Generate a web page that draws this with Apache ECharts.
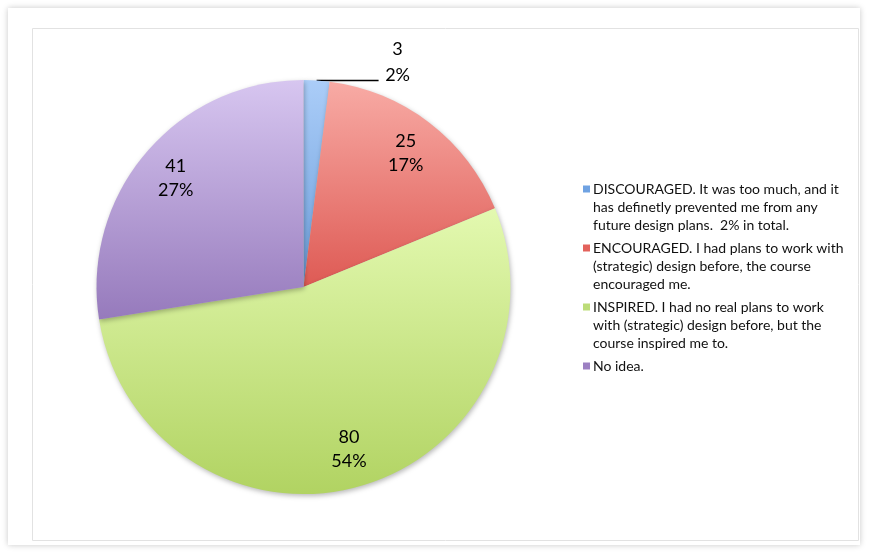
<!DOCTYPE html>
<html>
<head>
<meta charset="utf-8">
<script src="https://cdn.jsdelivr.net/npm/echarts@6/dist/echarts.min.js"></script>
<style>
html,body{margin:0;padding:0;background:#fff;}
#chart{width:870px;height:560px;}
</style>
</head>
<body>
<div id="chart"></div>
<script>
// ---- data ----
const categories = [
  "DISCOURAGED. It was too much, and it has definetly prevented me from any future design plans.  2% in total.",
  "ENCOURAGED. I had plans to work with (strategic) design before, the course encouraged me.",
  "INSPIRED. I had no real plans to work with (strategic) design before, but the course inspired me to.",
  "No idea."
];
const legendLines = [
  ["DISCOURAGED. It was too much, and it", "has definetly prevented me from any", "future design plans.  2% in total."],
  ["ENCOURAGED. I had plans to work with", "(strategic) design before, the course", "encouraged me."],
  ["INSPIRED. I had no real plans to work", "with (strategic) design before, but the", "course inspired me to."],
  ["No idea."]
];
const values = [3, 25, 80, 41];
const topColors = ["#abcdf8", "#f8aba5", "#e3f9b0", "#d7c6f0"];
const bottomColors = ["#6c9edb", "#de5a54", "#b1d362", "#967abc"];
const markerColors = ["#6fa2e2", "#e3625c", "#bcdc78", "#9c80c2"];

// ---- build ----
const FONT = "Lato, 'Liberation Sans', sans-serif";
function grad(i) {
  return {
    type: 'linear', x: 0, y: 0, x2: 0, y2: 1,
    colorStops: [{offset: 0, color: topColors[i]}, {offset: 1, color: bottomColors[i]}]
  };
}
const mainData = values.map((v, i) => ({
  name: categories[i], value: v,
  itemStyle: {color: grad(i)},
  label: {show: i === 0},
  labelLine: {show: i === 0}
}));
const overlayData = values.map((v, i) => ({
  name: categories[i], value: v,
  label: {show: i !== 0}
}));

const richLegend = {
  g: {width: 3, height: 7},
  s: {width: 10, height: 7}
};
markerColors.forEach((c, i) => {
  richLegend['m' + i] = {width: 7, height: 7, backgroundColor: c};
});

const chart = echarts.init(document.getElementById('chart'), null, {renderer: 'canvas'});
chart.setOption({
  backgroundColor: '#ffffff',
  animation: false,
  graphic: [
    {type: 'rect', z: -10, silent: true,
     shape: {x: 8, y: 8, width: 852, height: 537},
     style: {fill: '#ffffff', shadowBlur: 6, shadowColor: 'rgba(0,0,0,0.22)', shadowOffsetX: 0, shadowOffsetY: 0}},
    {type: 'rect', z: -9, silent: true,
     shape: {x: 32.5, y: 28.5, width: 826, height: 512},
     style: {fill: '#ffffff', stroke: '#e2e2e2', lineWidth: 1}}
  ],
  legend: {
    orient: 'vertical',
    left: 573,
    top: 175,
    icon: 'none',
    itemWidth: 0,
    itemHeight: 7,
    itemGap: 5,
    selectedMode: false,
    data: categories,
    textStyle: {fontFamily: FONT, fontSize: 14, lineHeight: 18, color: '#111', rich: richLegend},
    formatter: function (name) {
      const i = categories.indexOf(name);
      return legendLines[i].map((ln, k) => (k === 0 ? '{m' + i + '|}{g|}' : '{s|}') + ln).join('\n');
    }
  },
  series: [
    {
      type: 'pie',
      center: [303.5, 287],
      radius: [0, 207],
      startAngle: 90,
      clockwise: true,
      percentPrecision: 0,
      avoidLabelOverlap: false,
      itemStyle: {shadowBlur: 5, shadowColor: 'rgba(0,0,0,0.28)', shadowOffsetX: 1, shadowOffsetY: 2},
      label: {
        position: 'outside',
        fontFamily: FONT,
        fontSize: 18,
        color: '#000',
        distanceToLabelLine: 4,
        padding: [0, 0, 36, 0],
        formatter: '{c|{c}}\n{c|{d}%}',
        rich: {c: {width: 30, align: 'center', fontFamily: FONT, fontSize: 18, lineHeight: 26, color: '#000'}}
      },
      labelLine: {length: 0, length2: 62, smooth: false, lineStyle: {color: '#000', width: 1.5}},
      emphasis: {disabled: true},
      data: mainData
    },
    {
      type: 'pie',
      center: [303.5, 287],
      radius: [123, 207],
      startAngle: 90,
      clockwise: true,
      percentPrecision: 0,
      silent: true,
      itemStyle: {color: 'rgba(0,0,0,0)'},
      label: {
        position: 'inside',
        fontFamily: FONT,
        fontSize: 18,
        lineHeight: 24,
        color: '#000',
        formatter: '{c}\n{d}%'
      },
      labelLine: {show: false},
      emphasis: {disabled: true},
      data: overlayData
    }
  ]
});
</script>
</body>
</html>
